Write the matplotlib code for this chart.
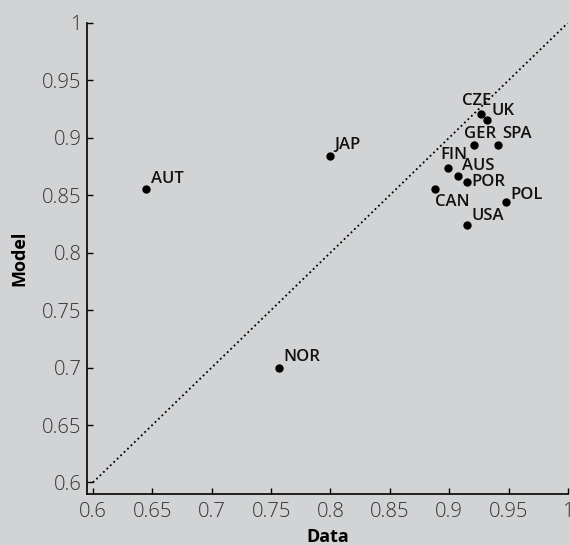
import matplotlib.pyplot as plt

# countries and their data / model values
countries = ["AUT", "JAP", "NOR", "CZE", "UK", "GER", "SPA", "FIN",
             "AUS", "POR", "CAN", "POL", "USA"]
data_vals = [0.645, 0.800, 0.757, 0.927, 0.932, 0.921, 0.941, 0.899,
             0.907, 0.915, 0.888, 0.948, 0.915]
model_vals = [0.855, 0.884, 0.700, 0.921, 0.915, 0.894, 0.894, 0.874,
              0.867, 0.861, 0.855, 0.844, 0.824]
ticks = [0.6, 0.65, 0.7, 0.75, 0.8, 0.85, 0.9, 0.95, 1]
tick_labels = ["0.6", "0.65", "0.7", "0.75", "0.8", "0.85", "0.9", "0.95", "1"]

# label offsets in points (dx, dy, ha, va)
label_pos = {
    "AUT": (3, 2, "left", "bottom"),
    "JAP": (3, 2, "left", "bottom"),
    "NOR": (3, 2, "left", "bottom"),
    "CZE": (-3, 3, "center", "bottom"),
    "UK": (3, 1, "left", "bottom"),
    "GER": (4, 2, "center", "bottom"),
    "SPA": (3, 2, "left", "bottom"),
    "FIN": (4, 3, "center", "bottom"),
    "AUS": (3, 1, "left", "bottom"),
    "POR": (3, 0, "left", "center"),
    "CAN": (0, -3, "left", "top"),
    "POL": (3, -1, "left", "bottom"),
    "USA": (3, 1, "left", "bottom"),
}

bg = "#d2d3d5"
plt.rcParams["font.family"] = ["Open Sans", "DejaVu Sans"]

fig = plt.figure(figsize=(5.7, 5.45), dpi=100, facecolor=bg)
ax = fig.add_axes([0.1526, 0.0936, 0.8439, 0.8647], facecolor=bg)

ax.plot([0.6, 1], [0.6, 1], ls=":", color="black", lw=1.3)
ax.plot(data_vals, model_vals, "o", color="black", ms=5, ls="none")

for name, x, y in zip(countries, data_vals, model_vals):
    dx, dy, ha, va = label_pos[name]
    ax.annotate(name, (x, y), xytext=(dx, dy), textcoords="offset points",
                ha=ha, va=va, fontsize=12, fontweight="semibold", color="#111111")

ax.set_xlim(0.595, 1)
ax.set_ylim(0.59, 1)
ax.set_xticks(ticks)
ax.set_xticklabels(tick_labels)
ax.set_yticks(ticks)
ax.set_yticklabels(tick_labels)
ax.tick_params(direction="in", length=4, width=1, labelsize=14.5,
               labelcolor="#333333")
ax.tick_params(axis="y", pad=4)
ax.tick_params(axis="x", pad=6)
for lbl in ax.get_xticklabels() + ax.get_yticklabels():
    lbl.set_fontweight("light")

ax.spines["top"].set_visible(False)
ax.spines["right"].set_visible(False)
ax.spines["left"].set_linewidth(1.2)
ax.spines["bottom"].set_linewidth(1.2)

ax.set_xlabel("Data", fontsize=13, fontweight="bold", labelpad=4)
ax.set_ylabel("Model", fontsize=13, fontweight="bold", labelpad=10)

fig.savefig("out.png", dpi=100, facecolor=bg)
